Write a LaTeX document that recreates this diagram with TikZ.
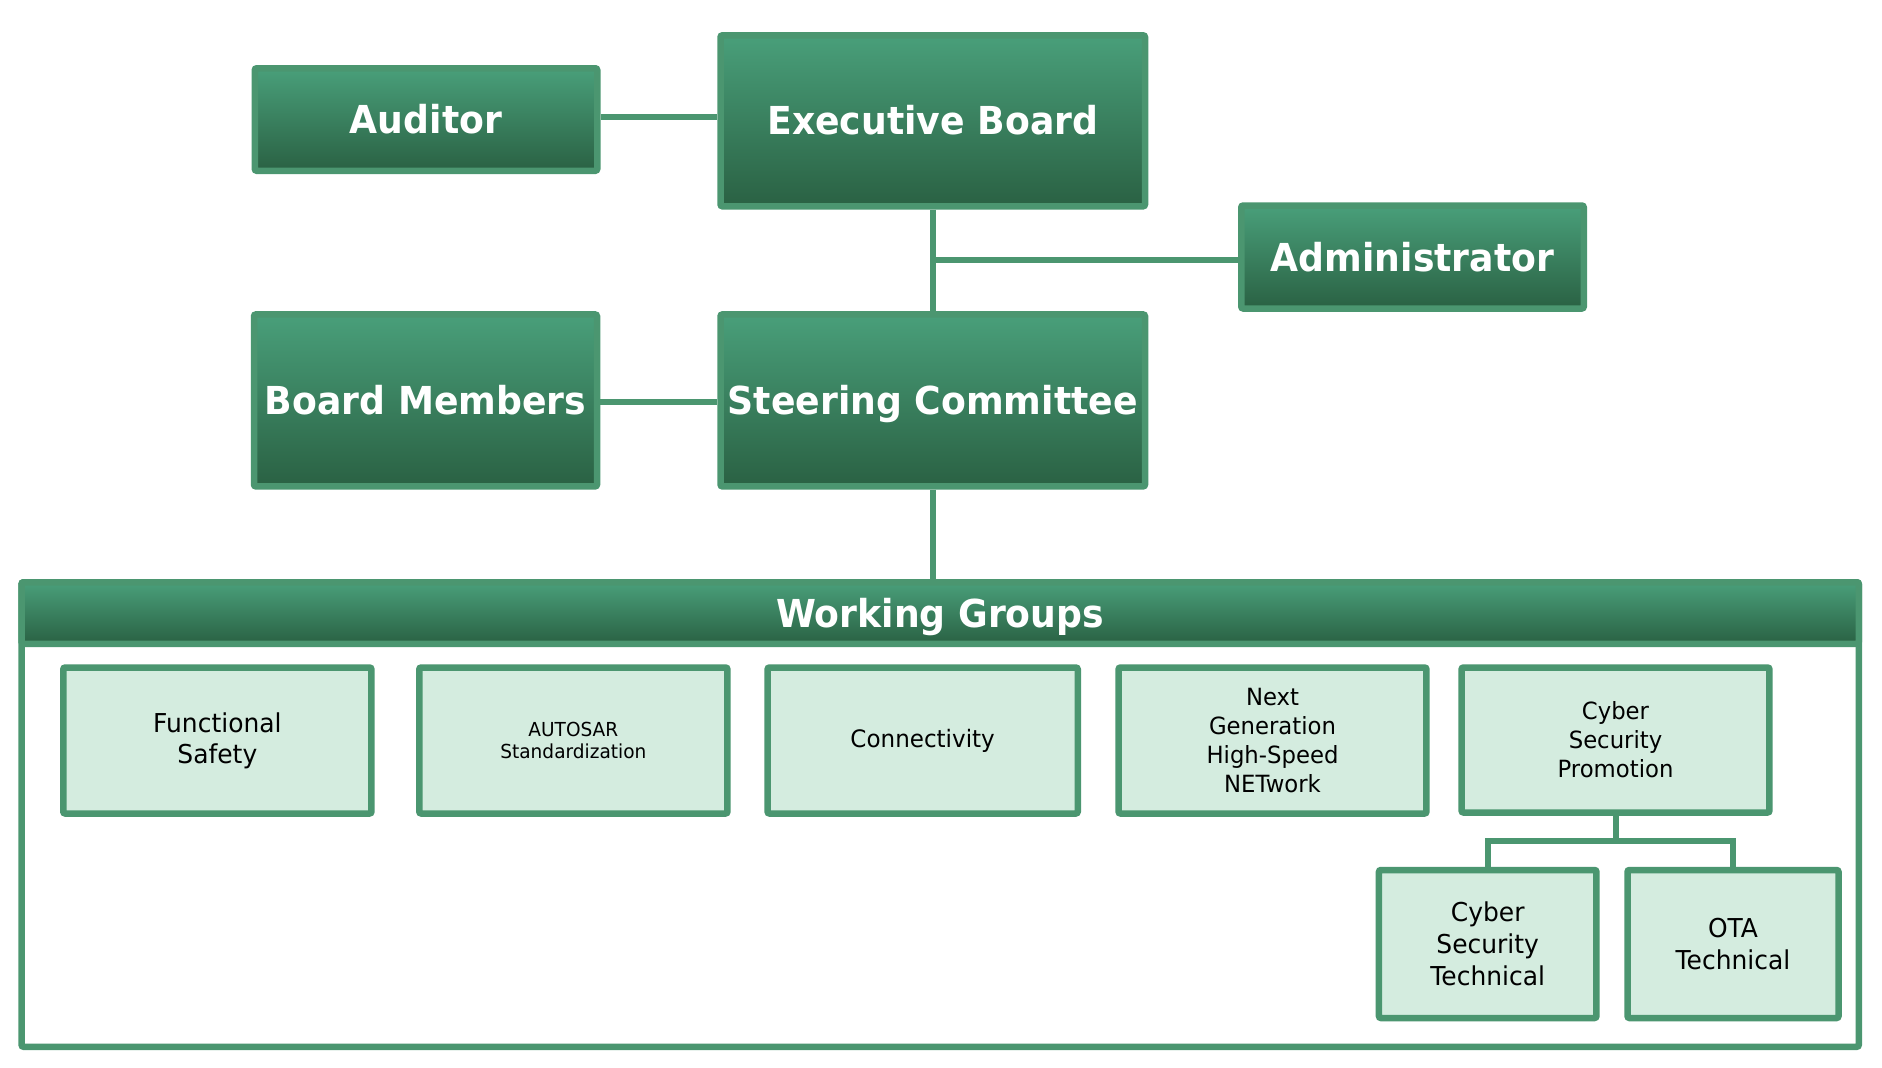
\documentclass[tikz,border=0pt]{standalone}
\usepackage{fontspec}
\setmainfont{DejaVu Sans}
\newfontfamily\regfont[FakeStretch=0.96]{DejaVu Sans}
\newfontfamily\titlefont[FakeStretch=0.94]{DejaVu Sans}
\definecolor{bgreen}{RGB}{75,150,112}
\definecolor{gtop}{RGB}{73,159,122}
\definecolor{gbot}{RGB}{42,97,67}
\definecolor{lfill}{RGB}{212,236,223}
\tikzset{
  topbox/.style={draw=bgreen, line width=6.5pt, rounded corners=2pt,
    top color=gtop, bottom color=gbot, text=white, inner sep=0pt,
    text height=28pt, text depth=0pt,
    font=\titlefont\bfseries\fontsize{38.5pt}{44pt}\selectfont},
  wgbox/.style={draw=bgreen, line width=6.5pt, rounded corners=2pt,
    fill=lfill, text=black, align=center, inner sep=0pt},
  link/.style={draw=bgreen, line width=6pt},
  fA/.style={font=\regfont\fontsize{26pt}{30.7pt}\selectfont},
  fB/.style={font=\regfont\fontsize{19.3pt}{21.7pt}\selectfont},
  fC/.style={font=\regfont\fontsize{23.7pt}{29pt}\selectfont},
  fD/.style={font=\regfont\fontsize{26pt}{32pt}\selectfont},
  fE/.style={font=\regfont\fontsize{24pt}{29pt}\selectfont}
}
\begin{document}
\begin{tikzpicture}[x=1pt,y=-1pt]
\useasboundingbox (0,0) rectangle (1882,1068);
% top level
\node[topbox, minimum width=342.5pt, minimum height=102.5pt] (aud) at (426,119.5) {Auditor};
\node[topbox, minimum width=424.5pt, minimum height=171pt] (exec) at (932.75,120.8) {Executive Board};
\node[topbox, minimum width=342.5pt, minimum height=103pt] (admin) at (1412.5,257) {Administrator};
\node[topbox, minimum width=343pt, minimum height=172pt] (board) at (425.5,400.4) {Board Members};
\node[topbox, minimum width=424.5pt, minimum height=172pt] (steer) at (932.75,400.4) {Steering Committee};
% working groups frame
\node[draw=bgreen, line width=6.5pt, fill=white, rounded corners=2pt, inner sep=0pt,
      minimum width=1837.2pt, minimum height=464.5pt] (wg) at (940.15,814.5) {};
\node[topbox, minimum width=1837.2pt, minimum height=61.5pt] (wghead) at (940.15,613) {Working Groups};
% groups
\node[wgbox, fA, minimum width=308.2pt, minimum height=146pt] (fs) at (217.35,740.5) {Functional\\Safety};
\node[wgbox, fB, minimum width=308.2pt, minimum height=146pt] (autosar) at (573.35,740.5) {AUTOSAR\\Standardization};
\node[wgbox, fE, minimum width=310.2pt, minimum height=146pt] (conn) at (922.65,740.5) {Connectivity};
\node[wgbox, fC, minimum width=307.9pt, minimum height=146pt] (ng) at (1272.5,740.5) {Next\\Generation\\High-Speed\\NETwork};
\node[wgbox, fC, minimum width=307.9pt, minimum height=145pt] (csp) at (1615.5,740) {Cyber\\Security\\Promotion};
\node[wgbox, fD, minimum width=217.5pt, minimum height=148pt] (cst) at (1487.7,944) {Cyber\\Security\\Technical};
\node[wgbox, fD, minimum width=211pt, minimum height=148pt] (ota) at (1733,944) {OTA\\Technical};
% connectors
\draw[link] ([yshift=3pt]aud.east) -- ([yshift=3pt]aud.east -| exec.west);
\draw[link] (exec.south) -- (steer.north);
\coordinate (j1) at ([yshift=-3pt]exec.south |- admin.west);
\draw[link] (j1) -- (j1 -| admin.west);
\draw[link] ([yshift=-2pt]board.east) -- ([yshift=-2pt]board.east -| steer.west);
\draw[link] (steer.south) -- (steer.south |- wghead.north);
\draw[link] (csp.south) -- ++(0,25) -| (cst.north);
\draw[link] (csp.south) -- ++(0,25) -| (ota.north);
\end{tikzpicture}
\end{document}
